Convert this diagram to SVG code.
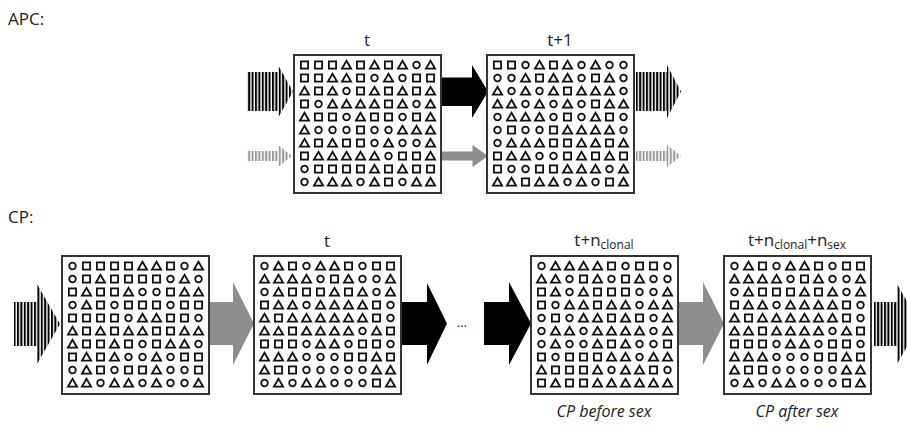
<svg xmlns="http://www.w3.org/2000/svg" xmlns:xlink="http://www.w3.org/1999/xlink" width="907" height="430" viewBox="0 0 907 430">
<style>
.sym{fill:none;stroke:#111;stroke-width:1.8}
.box{fill:#fff;stroke:#333;stroke-width:2}
.lbl{font-family:"Open Sans","Liberation Sans",sans-serif;fill:#222}
.ttl{font-family:"Open Sans","Liberation Sans",sans-serif;font-size:17px;fill:#222}
.cap{font-family:"Open Sans","Liberation Sans",sans-serif;font-size:16px;font-style:italic;fill:#222}
.blk{fill:#000}
.gry{fill:#8e8e8e}
</style>
<defs>
<pattern id="stK" patternUnits="userSpaceOnUse" width="3.4" height="20"><rect width="2" height="20" fill="#000"/></pattern>
<pattern id="stG" patternUnits="userSpaceOnUse" width="3.4" height="20"><rect width="2" height="20" fill="#999"/></pattern>
<rect id="S" class="sym" x="-3.6" y="-3.6" width="7.2" height="7.2"/>
<circle id="O" class="sym" r="3.3"/>
<path id="T" class="sym" d="M0,-4.3L4.6,3.7H-4.6Z"/>
<g id="gA">
<g transform="translate(0,10)"><use href="#S" x="10.5"/><use href="#S" x="24.5"/><use href="#S" x="38.5"/><use href="#T" x="52.5"/><use href="#S" x="66.5"/><use href="#T" x="80.5"/><use href="#S" x="94.5"/><use href="#T" x="108.5"/><use href="#O" x="122.5"/><use href="#T" x="136.5"/></g>
<g transform="translate(0,23)"><use href="#S" x="10.5"/><use href="#S" x="24.5"/><use href="#T" x="38.5"/><use href="#T" x="52.5"/><use href="#S" x="66.5"/><use href="#O" x="80.5"/><use href="#T" x="94.5"/><use href="#O" x="108.5"/><use href="#S" x="122.5"/><use href="#S" x="136.5"/></g>
<g transform="translate(0,36)"><use href="#T" x="10.5"/><use href="#S" x="24.5"/><use href="#T" x="38.5"/><use href="#O" x="52.5"/><use href="#S" x="66.5"/><use href="#T" x="80.5"/><use href="#S" x="94.5"/><use href="#T" x="108.5"/><use href="#S" x="122.5"/><use href="#T" x="136.5"/></g>
<g transform="translate(0,49)"><use href="#S" x="10.5"/><use href="#O" x="24.5"/><use href="#T" x="38.5"/><use href="#T" x="52.5"/><use href="#T" x="66.5"/><use href="#T" x="80.5"/><use href="#S" x="94.5"/><use href="#T" x="108.5"/><use href="#O" x="122.5"/><use href="#T" x="136.5"/></g>
<g transform="translate(0,62)"><use href="#T" x="10.5"/><use href="#S" x="24.5"/><use href="#S" x="38.5"/><use href="#O" x="52.5"/><use href="#T" x="66.5"/><use href="#S" x="80.5"/><use href="#S" x="94.5"/><use href="#O" x="108.5"/><use href="#S" x="122.5"/><use href="#T" x="136.5"/></g>
<g transform="translate(0,75)"><use href="#T" x="10.5"/><use href="#O" x="24.5"/><use href="#O" x="38.5"/><use href="#O" x="52.5"/><use href="#S" x="66.5"/><use href="#O" x="80.5"/><use href="#O" x="94.5"/><use href="#T" x="108.5"/><use href="#T" x="122.5"/><use href="#T" x="136.5"/></g>
<g transform="translate(0,88)"><use href="#T" x="10.5"/><use href="#S" x="24.5"/><use href="#T" x="38.5"/><use href="#S" x="52.5"/><use href="#S" x="66.5"/><use href="#O" x="80.5"/><use href="#T" x="94.5"/><use href="#O" x="108.5"/><use href="#O" x="122.5"/><use href="#T" x="136.5"/></g>
<g transform="translate(0,101)"><use href="#S" x="10.5"/><use href="#T" x="24.5"/><use href="#T" x="38.5"/><use href="#T" x="52.5"/><use href="#T" x="66.5"/><use href="#T" x="80.5"/><use href="#O" x="94.5"/><use href="#S" x="108.5"/><use href="#S" x="122.5"/><use href="#T" x="136.5"/></g>
<g transform="translate(0,114)"><use href="#O" x="10.5"/><use href="#S" x="24.5"/><use href="#S" x="38.5"/><use href="#S" x="52.5"/><use href="#S" x="66.5"/><use href="#T" x="80.5"/><use href="#S" x="94.5"/><use href="#T" x="108.5"/><use href="#S" x="122.5"/><use href="#S" x="136.5"/></g>
<g transform="translate(0,127)"><use href="#O" x="10.5"/><use href="#T" x="24.5"/><use href="#T" x="38.5"/><use href="#T" x="52.5"/><use href="#O" x="66.5"/><use href="#T" x="80.5"/><use href="#S" x="94.5"/><use href="#O" x="108.5"/><use href="#T" x="122.5"/><use href="#T" x="136.5"/></g>
</g>
<g id="gB">
<g transform="translate(0,10)"><use href="#S" x="10.5"/><use href="#S" x="24.5"/><use href="#O" x="38.5"/><use href="#T" x="52.5"/><use href="#S" x="66.5"/><use href="#T" x="80.5"/><use href="#O" x="94.5"/><use href="#T" x="108.5"/><use href="#O" x="122.5"/><use href="#O" x="136.5"/></g>
<g transform="translate(0,23)"><use href="#O" x="10.5"/><use href="#O" x="24.5"/><use href="#T" x="38.5"/><use href="#S" x="52.5"/><use href="#T" x="66.5"/><use href="#T" x="80.5"/><use href="#O" x="94.5"/><use href="#S" x="108.5"/><use href="#T" x="122.5"/><use href="#O" x="136.5"/></g>
<g transform="translate(0,36)"><use href="#T" x="10.5"/><use href="#O" x="24.5"/><use href="#T" x="38.5"/><use href="#O" x="52.5"/><use href="#T" x="66.5"/><use href="#S" x="80.5"/><use href="#T" x="94.5"/><use href="#T" x="108.5"/><use href="#T" x="122.5"/><use href="#O" x="136.5"/></g>
<g transform="translate(0,49)"><use href="#T" x="10.5"/><use href="#T" x="24.5"/><use href="#O" x="38.5"/><use href="#T" x="52.5"/><use href="#O" x="66.5"/><use href="#T" x="80.5"/><use href="#O" x="94.5"/><use href="#S" x="108.5"/><use href="#T" x="122.5"/><use href="#T" x="136.5"/></g>
<g transform="translate(0,62)"><use href="#O" x="10.5"/><use href="#T" x="24.5"/><use href="#T" x="38.5"/><use href="#T" x="52.5"/><use href="#O" x="66.5"/><use href="#S" x="80.5"/><use href="#O" x="94.5"/><use href="#T" x="108.5"/><use href="#S" x="122.5"/><use href="#O" x="136.5"/></g>
<g transform="translate(0,75)"><use href="#O" x="10.5"/><use href="#S" x="24.5"/><use href="#O" x="38.5"/><use href="#O" x="52.5"/><use href="#S" x="66.5"/><use href="#T" x="80.5"/><use href="#T" x="94.5"/><use href="#T" x="108.5"/><use href="#T" x="122.5"/><use href="#O" x="136.5"/></g>
<g transform="translate(0,88)"><use href="#O" x="10.5"/><use href="#T" x="24.5"/><use href="#T" x="38.5"/><use href="#T" x="52.5"/><use href="#S" x="66.5"/><use href="#S" x="80.5"/><use href="#T" x="94.5"/><use href="#T" x="108.5"/><use href="#S" x="122.5"/><use href="#T" x="136.5"/></g>
<g transform="translate(0,101)"><use href="#S" x="10.5"/><use href="#T" x="24.5"/><use href="#T" x="38.5"/><use href="#O" x="52.5"/><use href="#O" x="66.5"/><use href="#S" x="80.5"/><use href="#T" x="94.5"/><use href="#S" x="108.5"/><use href="#T" x="122.5"/><use href="#S" x="136.5"/></g>
<g transform="translate(0,114)"><use href="#S" x="10.5"/><use href="#O" x="24.5"/><use href="#O" x="38.5"/><use href="#S" x="52.5"/><use href="#S" x="66.5"/><use href="#T" x="80.5"/><use href="#T" x="94.5"/><use href="#T" x="108.5"/><use href="#O" x="122.5"/><use href="#T" x="136.5"/></g>
<g transform="translate(0,127)"><use href="#T" x="10.5"/><use href="#T" x="24.5"/><use href="#S" x="38.5"/><use href="#T" x="52.5"/><use href="#T" x="66.5"/><use href="#O" x="80.5"/><use href="#T" x="94.5"/><use href="#O" x="108.5"/><use href="#S" x="122.5"/><use href="#T" x="136.5"/></g>
</g>
<g id="gC">
<g transform="translate(0,10)"><use href="#O" x="10.5"/><use href="#S" x="24.5"/><use href="#S" x="38.5"/><use href="#S" x="52.5"/><use href="#S" x="66.5"/><use href="#T" x="80.5"/><use href="#T" x="94.5"/><use href="#S" x="108.5"/><use href="#O" x="122.5"/><use href="#T" x="136.5"/></g>
<g transform="translate(0,23)"><use href="#O" x="10.5"/><use href="#S" x="24.5"/><use href="#T" x="38.5"/><use href="#S" x="52.5"/><use href="#S" x="66.5"/><use href="#S" x="80.5"/><use href="#S" x="94.5"/><use href="#O" x="108.5"/><use href="#T" x="122.5"/><use href="#O" x="136.5"/></g>
<g transform="translate(0,36)"><use href="#S" x="10.5"/><use href="#T" x="24.5"/><use href="#S" x="38.5"/><use href="#S" x="52.5"/><use href="#T" x="66.5"/><use href="#O" x="80.5"/><use href="#O" x="94.5"/><use href="#S" x="108.5"/><use href="#T" x="122.5"/><use href="#T" x="136.5"/></g>
<g transform="translate(0,49)"><use href="#O" x="10.5"/><use href="#T" x="24.5"/><use href="#S" x="38.5"/><use href="#O" x="52.5"/><use href="#S" x="66.5"/><use href="#S" x="80.5"/><use href="#S" x="94.5"/><use href="#O" x="108.5"/><use href="#S" x="122.5"/><use href="#S" x="136.5"/></g>
<g transform="translate(0,62)"><use href="#S" x="10.5"/><use href="#S" x="24.5"/><use href="#S" x="38.5"/><use href="#S" x="52.5"/><use href="#O" x="66.5"/><use href="#T" x="80.5"/><use href="#T" x="94.5"/><use href="#S" x="108.5"/><use href="#S" x="122.5"/><use href="#O" x="136.5"/></g>
<g transform="translate(0,75)"><use href="#T" x="10.5"/><use href="#S" x="24.5"/><use href="#T" x="38.5"/><use href="#S" x="52.5"/><use href="#T" x="66.5"/><use href="#T" x="80.5"/><use href="#S" x="94.5"/><use href="#S" x="108.5"/><use href="#T" x="122.5"/><use href="#T" x="136.5"/></g>
<g transform="translate(0,88)"><use href="#T" x="10.5"/><use href="#S" x="24.5"/><use href="#S" x="38.5"/><use href="#T" x="52.5"/><use href="#S" x="66.5"/><use href="#O" x="80.5"/><use href="#S" x="94.5"/><use href="#T" x="108.5"/><use href="#T" x="122.5"/><use href="#O" x="136.5"/></g>
<g transform="translate(0,101)"><use href="#S" x="10.5"/><use href="#T" x="24.5"/><use href="#S" x="38.5"/><use href="#T" x="52.5"/><use href="#O" x="66.5"/><use href="#O" x="80.5"/><use href="#T" x="94.5"/><use href="#O" x="108.5"/><use href="#S" x="122.5"/><use href="#S" x="136.5"/></g>
<g transform="translate(0,114)"><use href="#O" x="10.5"/><use href="#T" x="24.5"/><use href="#S" x="38.5"/><use href="#O" x="52.5"/><use href="#S" x="66.5"/><use href="#S" x="80.5"/><use href="#T" x="94.5"/><use href="#O" x="108.5"/><use href="#O" x="122.5"/><use href="#S" x="136.5"/></g>
<g transform="translate(0,127)"><use href="#T" x="10.5"/><use href="#T" x="24.5"/><use href="#O" x="38.5"/><use href="#T" x="52.5"/><use href="#T" x="66.5"/><use href="#O" x="80.5"/><use href="#T" x="94.5"/><use href="#O" x="108.5"/><use href="#O" x="122.5"/><use href="#T" x="136.5"/></g>
</g>
<g id="gD">
<g transform="translate(0,10)"><use href="#O" x="10.5"/><use href="#T" x="24.5"/><use href="#S" x="38.5"/><use href="#O" x="52.5"/><use href="#T" x="66.5"/><use href="#T" x="80.5"/><use href="#S" x="94.5"/><use href="#O" x="108.5"/><use href="#S" x="122.5"/><use href="#S" x="136.5"/></g>
<g transform="translate(0,23)"><use href="#T" x="10.5"/><use href="#T" x="24.5"/><use href="#T" x="38.5"/><use href="#T" x="52.5"/><use href="#O" x="66.5"/><use href="#S" x="80.5"/><use href="#T" x="94.5"/><use href="#O" x="108.5"/><use href="#O" x="122.5"/><use href="#T" x="136.5"/></g>
<g transform="translate(0,36)"><use href="#O" x="10.5"/><use href="#T" x="24.5"/><use href="#S" x="38.5"/><use href="#S" x="52.5"/><use href="#S" x="66.5"/><use href="#T" x="80.5"/><use href="#S" x="94.5"/><use href="#T" x="108.5"/><use href="#O" x="122.5"/><use href="#T" x="136.5"/></g>
<g transform="translate(0,49)"><use href="#S" x="10.5"/><use href="#T" x="24.5"/><use href="#T" x="38.5"/><use href="#O" x="52.5"/><use href="#T" x="66.5"/><use href="#T" x="80.5"/><use href="#T" x="94.5"/><use href="#T" x="108.5"/><use href="#S" x="122.5"/><use href="#O" x="136.5"/></g>
<g transform="translate(0,62)"><use href="#T" x="10.5"/><use href="#S" x="24.5"/><use href="#T" x="38.5"/><use href="#T" x="52.5"/><use href="#T" x="66.5"/><use href="#T" x="80.5"/><use href="#T" x="94.5"/><use href="#T" x="108.5"/><use href="#S" x="122.5"/><use href="#O" x="136.5"/></g>
<g transform="translate(0,75)"><use href="#T" x="10.5"/><use href="#T" x="24.5"/><use href="#S" x="38.5"/><use href="#T" x="52.5"/><use href="#T" x="66.5"/><use href="#T" x="80.5"/><use href="#T" x="94.5"/><use href="#O" x="108.5"/><use href="#T" x="122.5"/><use href="#S" x="136.5"/></g>
<g transform="translate(0,88)"><use href="#S" x="10.5"/><use href="#S" x="24.5"/><use href="#S" x="38.5"/><use href="#O" x="52.5"/><use href="#T" x="66.5"/><use href="#T" x="80.5"/><use href="#O" x="94.5"/><use href="#S" x="108.5"/><use href="#S" x="122.5"/><use href="#O" x="136.5"/></g>
<g transform="translate(0,101)"><use href="#T" x="10.5"/><use href="#T" x="24.5"/><use href="#T" x="38.5"/><use href="#O" x="52.5"/><use href="#O" x="66.5"/><use href="#O" x="80.5"/><use href="#S" x="94.5"/><use href="#S" x="108.5"/><use href="#T" x="122.5"/><use href="#S" x="136.5"/></g>
<g transform="translate(0,114)"><use href="#T" x="10.5"/><use href="#S" x="24.5"/><use href="#S" x="38.5"/><use href="#O" x="52.5"/><use href="#O" x="66.5"/><use href="#O" x="80.5"/><use href="#O" x="94.5"/><use href="#O" x="108.5"/><use href="#T" x="122.5"/><use href="#T" x="136.5"/></g>
<g transform="translate(0,127)"><use href="#O" x="10.5"/><use href="#T" x="24.5"/><use href="#O" x="38.5"/><use href="#T" x="52.5"/><use href="#T" x="66.5"/><use href="#O" x="80.5"/><use href="#O" x="94.5"/><use href="#O" x="108.5"/><use href="#S" x="122.5"/><use href="#T" x="136.5"/></g>
</g>
<g id="gE">
<g transform="translate(0,10)"><use href="#O" x="10.5"/><use href="#T" x="24.5"/><use href="#T" x="38.5"/><use href="#T" x="52.5"/><use href="#T" x="66.5"/><use href="#S" x="80.5"/><use href="#O" x="94.5"/><use href="#S" x="108.5"/><use href="#S" x="122.5"/><use href="#O" x="136.5"/></g>
<g transform="translate(0,23)"><use href="#T" x="10.5"/><use href="#T" x="24.5"/><use href="#O" x="38.5"/><use href="#S" x="52.5"/><use href="#T" x="66.5"/><use href="#O" x="80.5"/><use href="#S" x="94.5"/><use href="#T" x="108.5"/><use href="#O" x="122.5"/><use href="#O" x="136.5"/></g>
<g transform="translate(0,36)"><use href="#S" x="10.5"/><use href="#T" x="24.5"/><use href="#O" x="38.5"/><use href="#T" x="52.5"/><use href="#S" x="66.5"/><use href="#S" x="80.5"/><use href="#S" x="94.5"/><use href="#O" x="108.5"/><use href="#O" x="122.5"/><use href="#T" x="136.5"/></g>
<g transform="translate(0,49)"><use href="#S" x="10.5"/><use href="#O" x="24.5"/><use href="#T" x="38.5"/><use href="#T" x="52.5"/><use href="#S" x="66.5"/><use href="#T" x="80.5"/><use href="#T" x="94.5"/><use href="#O" x="108.5"/><use href="#T" x="122.5"/><use href="#T" x="136.5"/></g>
<g transform="translate(0,62)"><use href="#O" x="10.5"/><use href="#S" x="24.5"/><use href="#O" x="38.5"/><use href="#T" x="52.5"/><use href="#T" x="66.5"/><use href="#S" x="80.5"/><use href="#T" x="94.5"/><use href="#S" x="108.5"/><use href="#O" x="122.5"/><use href="#T" x="136.5"/></g>
<g transform="translate(0,75)"><use href="#O" x="10.5"/><use href="#T" x="24.5"/><use href="#T" x="38.5"/><use href="#O" x="52.5"/><use href="#T" x="66.5"/><use href="#T" x="80.5"/><use href="#T" x="94.5"/><use href="#T" x="108.5"/><use href="#O" x="122.5"/><use href="#T" x="136.5"/></g>
<g transform="translate(0,88)"><use href="#O" x="10.5"/><use href="#T" x="24.5"/><use href="#O" x="38.5"/><use href="#O" x="52.5"/><use href="#T" x="66.5"/><use href="#S" x="80.5"/><use href="#T" x="94.5"/><use href="#O" x="108.5"/><use href="#O" x="122.5"/><use href="#S" x="136.5"/></g>
<g transform="translate(0,101)"><use href="#S" x="10.5"/><use href="#O" x="24.5"/><use href="#S" x="38.5"/><use href="#S" x="52.5"/><use href="#S" x="66.5"/><use href="#T" x="80.5"/><use href="#T" x="94.5"/><use href="#O" x="108.5"/><use href="#T" x="122.5"/><use href="#T" x="136.5"/></g>
<g transform="translate(0,114)"><use href="#T" x="10.5"/><use href="#S" x="24.5"/><use href="#S" x="38.5"/><use href="#S" x="52.5"/><use href="#T" x="66.5"/><use href="#O" x="80.5"/><use href="#T" x="94.5"/><use href="#T" x="108.5"/><use href="#S" x="122.5"/><use href="#O" x="136.5"/></g>
<g transform="translate(0,127)"><use href="#S" x="10.5"/><use href="#T" x="24.5"/><use href="#S" x="38.5"/><use href="#S" x="52.5"/><use href="#T" x="66.5"/><use href="#T" x="80.5"/><use href="#T" x="94.5"/><use href="#T" x="108.5"/><use href="#T" x="122.5"/><use href="#T" x="136.5"/></g>
</g>
</defs>
<rect width="907" height="430" fill="#fff"/>
<text class="ttl" x="8" y="25">APC:</text>
<text class="ttl" x="8" y="223">CP:</text>
<g id="connectors">
<polygon class="blk" points="440,77.5 472,77.5 472,65 488,91.5 472,118 472,106 440,106"/>
<polygon class="gry" points="440,151.5 472.5,151.5 472.5,145 488,156 472.5,167 472.5,160.5 440,160.5"/>
<polygon class="gry" points="206,302 233,302 233,282 254,323.5 233,365 233,345 206,345"/>
<polygon class="blk" points="400,302 427,302 427,283 447,323.5 427,365 427,345 400,345"/>
<text class="lbl" x="462" y="327" font-size="13" text-anchor="middle">…</text>
<polygon class="blk" points="484,302 509,302 509,282 531,323.5 509,365 509,345 484,345"/>
<polygon class="gry" points="677,302 703,302 703,282 724,323.5 703,365 703,345 677,345"/>
</g>
<g id="signals">
<polygon fill="url(#stK)" points="247,72 278,72 278,65 293,91.5 278,118 278,111 247,111"/>
<polygon fill="url(#stG)" points="247,151 278,151 278,145 292,156 278,167 278,161 247,161"/>
<polygon fill="url(#stK)" points="636,72 667,72 667,65 681,91.5 667,118 667,111 636,111"/>
<polygon fill="url(#stG)" points="636,151 667,151 667,145 681,156 667,167 667,161 636,161"/>
<polygon fill="url(#stK)" points="14,302 37,302 37,284 60,324 37,364 37,346 14,346"/>
<polygon fill="url(#stK)" points="874,302 897,302 897,284 920,324 897,364 897,346 874,346"/>
</g>
<g id="apc-t">
<text class="lbl" x="367" y="46" font-size="17" text-anchor="middle">t</text>
<rect class="box" x="294" y="55" width="147" height="138"/>
<use href="#gA" transform="translate(294,55)"/>
</g>
<g id="apc-t1">
<text class="lbl" x="560" y="46" font-size="17" text-anchor="middle">t+1</text>
<rect class="box" x="487" y="55" width="147" height="138"/>
<use href="#gB" transform="translate(487,55)"/>
</g>
<g id="cp-start">
<rect class="box" x="62" y="256" width="147" height="138"/>
<use href="#gC" transform="translate(62,256)"/>
</g>
<g id="cp-t">
<text class="lbl" x="327" y="247" font-size="17" text-anchor="middle">t</text>
<rect class="box" x="254" y="256" width="147" height="138"/>
<use href="#gD" transform="translate(254,256)"/>
</g>
<g id="cp-clonal">
<text class="lbl" x="604" y="246" font-size="17" text-anchor="middle">t+n<tspan font-size="12" dy="3">clonal</tspan></text>
<rect class="box" x="531" y="256" width="147" height="138"/>
<use href="#gE" transform="translate(531,256)"/>
<text class="cap" x="604" y="417" text-anchor="middle">CP before sex</text>
</g>
<g id="cp-sex">
<text class="lbl" x="797" y="246" font-size="17" text-anchor="middle">t+n<tspan font-size="12" dy="3">clonal</tspan><tspan dy="-3">+n</tspan><tspan font-size="12" dy="3">sex</tspan></text>
<rect class="box" x="724" y="256" width="147" height="138"/>
<use href="#gD" transform="translate(724,256)"/>
<text class="cap" x="797" y="417" text-anchor="middle">CP after sex</text>
</g>
</svg>
